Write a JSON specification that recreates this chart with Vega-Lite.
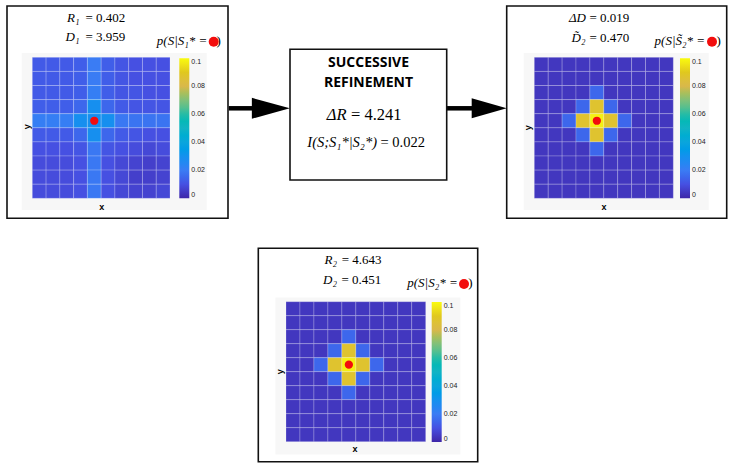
{
"$schema": "https://vega.github.io/schema/vega-lite/v6.json",
"background": "white",
"autosize": "none",
"padding": 0,
"width": 735,
"height": 468,
"view": {"stroke": null, "fill": null},
"datasets": {
"p1": [
{"c":0,"r":0,"p":0.012},{"c":1,"r":0,"p":0.012},{"c":2,"r":0,"p":0.012},{"c":3,"r":0,"p":0.013},{"c":4,"r":0,"p":0.020},{"c":5,"r":0,"p":0.013},{"c":6,"r":0,"p":0.011},{"c":7,"r":0,"p":0.010},{"c":8,"r":0,"p":0.010},{"c":9,"r":0,"p":0.010},
{"c":0,"r":1,"p":0.012},{"c":1,"r":1,"p":0.012},{"c":2,"r":1,"p":0.012},{"c":3,"r":1,"p":0.013},{"c":4,"r":1,"p":0.020},{"c":5,"r":1,"p":0.013},{"c":6,"r":1,"p":0.011},{"c":7,"r":1,"p":0.010},{"c":8,"r":1,"p":0.010},{"c":9,"r":1,"p":0.010},
{"c":0,"r":2,"p":0.012},{"c":1,"r":2,"p":0.012},{"c":2,"r":2,"p":0.012},{"c":3,"r":2,"p":0.013},{"c":4,"r":2,"p":0.021},{"c":5,"r":2,"p":0.013},{"c":6,"r":2,"p":0.011},{"c":7,"r":2,"p":0.011},{"c":8,"r":2,"p":0.010},{"c":9,"r":2,"p":0.010},
{"c":0,"r":3,"p":0.013},{"c":1,"r":3,"p":0.013},{"c":2,"r":3,"p":0.013},{"c":3,"r":3,"p":0.015},{"c":4,"r":3,"p":0.029},{"c":5,"r":3,"p":0.015},{"c":6,"r":3,"p":0.012},{"c":7,"r":3,"p":0.011},{"c":8,"r":3,"p":0.011},{"c":9,"r":3,"p":0.011},
{"c":0,"r":4,"p":0.021},{"c":1,"r":4,"p":0.021},{"c":2,"r":4,"p":0.021},{"c":3,"r":4,"p":0.029},{"c":4,"r":4,"p":0.029},{"c":5,"r":4,"p":0.029},{"c":6,"r":4,"p":0.019},{"c":7,"r":4,"p":0.018},{"c":8,"r":4,"p":0.018},{"c":9,"r":4,"p":0.018},
{"c":0,"r":5,"p":0.012},{"c":1,"r":5,"p":0.012},{"c":2,"r":5,"p":0.012},{"c":3,"r":5,"p":0.015},{"c":4,"r":5,"p":0.029},{"c":5,"r":5,"p":0.015},{"c":6,"r":5,"p":0.012},{"c":7,"r":5,"p":0.011},{"c":8,"r":5,"p":0.010},{"c":9,"r":5,"p":0.010},
{"c":0,"r":6,"p":0.010},{"c":1,"r":6,"p":0.010},{"c":2,"r":6,"p":0.010},{"c":3,"r":6,"p":0.011},{"c":4,"r":6,"p":0.019},{"c":5,"r":6,"p":0.011},{"c":6,"r":6,"p":0.010},{"c":7,"r":6,"p":0.009},{"c":8,"r":6,"p":0.008},{"c":9,"r":6,"p":0.009},
{"c":0,"r":7,"p":0.009},{"c":1,"r":7,"p":0.009},{"c":2,"r":7,"p":0.009},{"c":3,"r":7,"p":0.010},{"c":4,"r":7,"p":0.019},{"c":5,"r":7,"p":0.010},{"c":6,"r":7,"p":0.008},{"c":7,"r":7,"p":0.007},{"c":8,"r":7,"p":0.006},{"c":9,"r":7,"p":0.007},
{"c":0,"r":8,"p":0.009},{"c":1,"r":8,"p":0.009},{"c":2,"r":8,"p":0.009},{"c":3,"r":8,"p":0.010},{"c":4,"r":8,"p":0.019},{"c":5,"r":8,"p":0.010},{"c":6,"r":8,"p":0.008},{"c":7,"r":8,"p":0.006},{"c":8,"r":8,"p":0.006},{"c":9,"r":8,"p":0.007},
{"c":0,"r":9,"p":0.009},{"c":1,"r":9,"p":0.009},{"c":2,"r":9,"p":0.009},{"c":3,"r":9,"p":0.010},{"c":4,"r":9,"p":0.019},{"c":5,"r":9,"p":0.010},{"c":6,"r":9,"p":0.008},{"c":7,"r":9,"p":0.007},{"c":8,"r":9,"p":0.007},{"c":9,"r":9,"p":0.008}
],
"p2": [
{"c":0,"r":0,"p":0.004},{"c":1,"r":0,"p":0.004},{"c":2,"r":0,"p":0.004},{"c":3,"r":0,"p":0.004},{"c":4,"r":0,"p":0.004},{"c":5,"r":0,"p":0.004},{"c":6,"r":0,"p":0.004},{"c":7,"r":0,"p":0.004},{"c":8,"r":0,"p":0.004},{"c":9,"r":0,"p":0.004},
{"c":0,"r":1,"p":0.004},{"c":1,"r":1,"p":0.004},{"c":2,"r":1,"p":0.004},{"c":3,"r":1,"p":0.004},{"c":4,"r":1,"p":0.004},{"c":5,"r":1,"p":0.004},{"c":6,"r":1,"p":0.004},{"c":7,"r":1,"p":0.004},{"c":8,"r":1,"p":0.004},{"c":9,"r":1,"p":0.004},
{"c":0,"r":2,"p":0.004},{"c":1,"r":2,"p":0.004},{"c":2,"r":2,"p":0.004},{"c":3,"r":2,"p":0.004},{"c":4,"r":2,"p":0.015},{"c":5,"r":2,"p":0.004},{"c":6,"r":2,"p":0.004},{"c":7,"r":2,"p":0.004},{"c":8,"r":2,"p":0.004},{"c":9,"r":2,"p":0.004},
{"c":0,"r":3,"p":0.004},{"c":1,"r":3,"p":0.004},{"c":2,"r":3,"p":0.004},{"c":3,"r":3,"p":0.015},{"c":4,"r":3,"p":0.087},{"c":5,"r":3,"p":0.015},{"c":6,"r":3,"p":0.004},{"c":7,"r":3,"p":0.004},{"c":8,"r":3,"p":0.004},{"c":9,"r":3,"p":0.004},
{"c":0,"r":4,"p":0.004},{"c":1,"r":4,"p":0.004},{"c":2,"r":4,"p":0.015},{"c":3,"r":4,"p":0.087},{"c":4,"r":4,"p":0.098},{"c":5,"r":4,"p":0.087},{"c":6,"r":4,"p":0.015},{"c":7,"r":4,"p":0.004},{"c":8,"r":4,"p":0.004},{"c":9,"r":4,"p":0.004},
{"c":0,"r":5,"p":0.004},{"c":1,"r":5,"p":0.004},{"c":2,"r":5,"p":0.004},{"c":3,"r":5,"p":0.015},{"c":4,"r":5,"p":0.087},{"c":5,"r":5,"p":0.015},{"c":6,"r":5,"p":0.004},{"c":7,"r":5,"p":0.004},{"c":8,"r":5,"p":0.004},{"c":9,"r":5,"p":0.004},
{"c":0,"r":6,"p":0.004},{"c":1,"r":6,"p":0.004},{"c":2,"r":6,"p":0.004},{"c":3,"r":6,"p":0.004},{"c":4,"r":6,"p":0.015},{"c":5,"r":6,"p":0.004},{"c":6,"r":6,"p":0.004},{"c":7,"r":6,"p":0.004},{"c":8,"r":6,"p":0.004},{"c":9,"r":6,"p":0.004},
{"c":0,"r":7,"p":0.004},{"c":1,"r":7,"p":0.004},{"c":2,"r":7,"p":0.004},{"c":3,"r":7,"p":0.004},{"c":4,"r":7,"p":0.004},{"c":5,"r":7,"p":0.004},{"c":6,"r":7,"p":0.004},{"c":7,"r":7,"p":0.004},{"c":8,"r":7,"p":0.004},{"c":9,"r":7,"p":0.004},
{"c":0,"r":8,"p":0.004},{"c":1,"r":8,"p":0.004},{"c":2,"r":8,"p":0.004},{"c":3,"r":8,"p":0.004},{"c":4,"r":8,"p":0.004},{"c":5,"r":8,"p":0.004},{"c":6,"r":8,"p":0.004},{"c":7,"r":8,"p":0.004},{"c":8,"r":8,"p":0.004},{"c":9,"r":8,"p":0.004},
{"c":0,"r":9,"p":0.004},{"c":1,"r":9,"p":0.004},{"c":2,"r":9,"p":0.004},{"c":3,"r":9,"p":0.004},{"c":4,"r":9,"p":0.004},{"c":5,"r":9,"p":0.004},{"c":6,"r":9,"p":0.004},{"c":7,"r":9,"p":0.004},{"c":8,"r":9,"p":0.004},{"c":9,"r":9,"p":0.004}
],
"p3": [
{"c":0,"r":0,"p":0.004},{"c":1,"r":0,"p":0.004},{"c":2,"r":0,"p":0.004},{"c":3,"r":0,"p":0.004},{"c":4,"r":0,"p":0.004},{"c":5,"r":0,"p":0.004},{"c":6,"r":0,"p":0.004},{"c":7,"r":0,"p":0.004},{"c":8,"r":0,"p":0.004},{"c":9,"r":0,"p":0.004},
{"c":0,"r":1,"p":0.004},{"c":1,"r":1,"p":0.004},{"c":2,"r":1,"p":0.004},{"c":3,"r":1,"p":0.004},{"c":4,"r":1,"p":0.004},{"c":5,"r":1,"p":0.004},{"c":6,"r":1,"p":0.004},{"c":7,"r":1,"p":0.004},{"c":8,"r":1,"p":0.004},{"c":9,"r":1,"p":0.004},
{"c":0,"r":2,"p":0.004},{"c":1,"r":2,"p":0.004},{"c":2,"r":2,"p":0.004},{"c":3,"r":2,"p":0.004},{"c":4,"r":2,"p":0.015},{"c":5,"r":2,"p":0.004},{"c":6,"r":2,"p":0.004},{"c":7,"r":2,"p":0.004},{"c":8,"r":2,"p":0.004},{"c":9,"r":2,"p":0.004},
{"c":0,"r":3,"p":0.004},{"c":1,"r":3,"p":0.004},{"c":2,"r":3,"p":0.004},{"c":3,"r":3,"p":0.015},{"c":4,"r":3,"p":0.087},{"c":5,"r":3,"p":0.015},{"c":6,"r":3,"p":0.004},{"c":7,"r":3,"p":0.004},{"c":8,"r":3,"p":0.004},{"c":9,"r":3,"p":0.004},
{"c":0,"r":4,"p":0.004},{"c":1,"r":4,"p":0.004},{"c":2,"r":4,"p":0.015},{"c":3,"r":4,"p":0.087},{"c":4,"r":4,"p":0.098},{"c":5,"r":4,"p":0.087},{"c":6,"r":4,"p":0.015},{"c":7,"r":4,"p":0.004},{"c":8,"r":4,"p":0.004},{"c":9,"r":4,"p":0.004},
{"c":0,"r":5,"p":0.004},{"c":1,"r":5,"p":0.004},{"c":2,"r":5,"p":0.004},{"c":3,"r":5,"p":0.015},{"c":4,"r":5,"p":0.087},{"c":5,"r":5,"p":0.015},{"c":6,"r":5,"p":0.004},{"c":7,"r":5,"p":0.004},{"c":8,"r":5,"p":0.004},{"c":9,"r":5,"p":0.004},
{"c":0,"r":6,"p":0.004},{"c":1,"r":6,"p":0.004},{"c":2,"r":6,"p":0.004},{"c":3,"r":6,"p":0.004},{"c":4,"r":6,"p":0.015},{"c":5,"r":6,"p":0.004},{"c":6,"r":6,"p":0.004},{"c":7,"r":6,"p":0.004},{"c":8,"r":6,"p":0.004},{"c":9,"r":6,"p":0.004},
{"c":0,"r":7,"p":0.004},{"c":1,"r":7,"p":0.004},{"c":2,"r":7,"p":0.004},{"c":3,"r":7,"p":0.004},{"c":4,"r":7,"p":0.004},{"c":5,"r":7,"p":0.004},{"c":6,"r":7,"p":0.004},{"c":7,"r":7,"p":0.004},{"c":8,"r":7,"p":0.004},{"c":9,"r":7,"p":0.004},
{"c":0,"r":8,"p":0.004},{"c":1,"r":8,"p":0.004},{"c":2,"r":8,"p":0.004},{"c":3,"r":8,"p":0.004},{"c":4,"r":8,"p":0.004},{"c":5,"r":8,"p":0.004},{"c":6,"r":8,"p":0.004},{"c":7,"r":8,"p":0.004},{"c":8,"r":8,"p":0.004},{"c":9,"r":8,"p":0.004},
{"c":0,"r":9,"p":0.004},{"c":1,"r":9,"p":0.004},{"c":2,"r":9,"p":0.004},{"c":3,"r":9,"p":0.004},{"c":4,"r":9,"p":0.004},{"c":5,"r":9,"p":0.004},{"c":6,"r":9,"p":0.004},{"c":7,"r":9,"p":0.004},{"c":8,"r":9,"p":0.004},{"c":9,"r":9,"p":0.004}
]
},
"resolve": {"scale": {"x": "independent", "y": "independent", "color": "independent"}, "legend": {"color": "independent"}},
"layer": [
{"data": {"values": [{}]},
"layer": [
{"mark": {"type": "rect", "fill": "white", "stroke": "#111", "strokeWidth": 1.6},
"encoding": {"x": {"datum": 7, "type": "quantitative", "scale": {"domain": [0, 735], "nice": false, "zero": false}, "axis": null}, "x2": {"datum": 228}, "y": {"datum": 6, "type": "quantitative", "scale": {"domain": [0, 468], "reverse": true, "nice": false, "zero": false}, "axis": null}, "y2": {"datum": 218.3}}},
{"mark": {"type": "rect", "fill": "white", "stroke": "#111", "strokeWidth": 1.6},
"encoding": {"x": {"datum": 506.7, "type": "quantitative"}, "x2": {"datum": 726.7}, "y": {"datum": 6, "type": "quantitative"}, "y2": {"datum": 218.3}}},
{"mark": {"type": "rect", "fill": "white", "stroke": "#111", "strokeWidth": 1.6},
"encoding": {"x": {"datum": 258.3, "type": "quantitative"}, "x2": {"datum": 477.7}, "y": {"datum": 248.3, "type": "quantitative"}, "y2": {"datum": 461.7}}},
{"mark": {"type": "rect", "fill": "#f7f7f7"},
"encoding": {"x": {"datum": 21.7, "type": "quantitative"}, "x2": {"datum": 206.7}, "y": {"datum": 53, "type": "quantitative"}, "y2": {"datum": 210}}},
{"mark": {"type": "rect", "fill": "#f7f7f7"},
"encoding": {"x": {"datum": 523.7, "type": "quantitative"}, "x2": {"datum": 708.7}, "y": {"datum": 53, "type": "quantitative"}, "y2": {"datum": 210}}},
{"mark": {"type": "rect", "fill": "#f7f7f7"},
"encoding": {"x": {"datum": 275.4, "type": "quantitative"}, "x2": {"datum": 460.4}, "y": {"datum": 297.4, "type": "quantitative"}, "y2": {"datum": 454.4}}},
{"mark": {"type": "rule", "color": "black", "strokeWidth": 4.5},
"encoding": {"x": {"datum": 228.8, "type": "quantitative"}, "x2": {"datum": 256}, "y": {"datum": 108.3, "type": "quantitative"}}},
{"mark": {"type": "point", "shape": "M-1,-0.55L1,0L-1,0.55Z", "filled": true, "color": "black", "size": 1444, "opacity": 1},
"encoding": {"x": {"datum": 270.85, "type": "quantitative"}, "y": {"datum": 108.3, "type": "quantitative"}}},
{"mark": {"type": "rule", "color": "black", "strokeWidth": 4.5},
"encoding": {"x": {"datum": 446.7, "type": "quantitative"}, "x2": {"datum": 474}, "y": {"datum": 108.3, "type": "quantitative"}}},
{"mark": {"type": "point", "shape": "M-1,-0.57L1,0L-1,0.57Z", "filled": true, "color": "black", "size": 1225, "opacity": 1},
"encoding": {"x": {"datum": 489.2, "type": "quantitative"}, "y": {"datum": 108.3, "type": "quantitative"}}},
{"mark": {"type": "rect", "fill": "white", "stroke": "#111", "strokeWidth": 1.6},
"encoding": {"x": {"datum": 290, "type": "quantitative"}, "x2": {"datum": 446.7}, "y": {"datum": 49.3, "type": "quantitative"}, "y2": {"datum": 180}}},
{"mark": {"type": "text", "text": "SUCCESSIVE", "font": "Open Sans", "fontSize": 14, "fontWeight": "bold", "align": "center", "baseline": "alphabetic"},
"encoding": {"x": {"datum": 368.5, "type": "quantitative"}, "y": {"datum": 67.3, "type": "quantitative"}}},
{"mark": {"type": "text", "text": "REFINEMENT", "font": "Open Sans", "fontSize": 14, "fontWeight": "bold", "align": "center", "baseline": "alphabetic"},
"encoding": {"x": {"datum": 368.5, "type": "quantitative"}, "y": {"datum": 86.7, "type": "quantitative"}}},
{"mark": {"type": "text", "text": "ΔR", "font": "Liberation Serif", "fontSize": 16.5, "fontStyle": "italic", "align": "right", "baseline": "alphabetic"},
"encoding": {"x": {"datum": 346.5, "type": "quantitative"}, "y": {"datum": 120, "type": "quantitative"}}},
{"mark": {"type": "text", "text": "= 4.241", "font": "Liberation Serif", "fontSize": 16.5, "align": "left", "baseline": "alphabetic"},
"encoding": {"x": {"datum": 351, "type": "quantitative"}, "y": {"datum": 120, "type": "quantitative"}}},
{"mark": {"type": "text", "text": "I(S;S₁*|S₂*)", "font": "Liberation Serif", "fontSize": 14.5, "fontStyle": "italic", "align": "right", "baseline": "alphabetic"},
"encoding": {"x": {"datum": 377, "type": "quantitative"}, "y": {"datum": 147.3, "type": "quantitative"}}},
{"mark": {"type": "text", "text": "= 0.022", "font": "Liberation Serif", "fontSize": 14.5, "align": "left", "baseline": "alphabetic"},
"encoding": {"x": {"datum": 380.5, "type": "quantitative"}, "y": {"datum": 147.3, "type": "quantitative"}}},

{"mark": {"type": "text", "text": "R₁", "font": "Liberation Serif", "fontSize": 13, "fontStyle": "italic", "align": "right", "baseline": "alphabetic"},
"encoding": {"x": {"datum": 79.5, "type": "quantitative"}, "y": {"datum": 21.7, "type": "quantitative"}}},
{"mark": {"type": "text", "text": "= 0.402", "font": "Liberation Serif", "fontSize": 13, "align": "left", "baseline": "alphabetic"},
"encoding": {"x": {"datum": 85.5, "type": "quantitative"}, "y": {"datum": 21.7, "type": "quantitative"}}},
{"mark": {"type": "text", "text": "D₁", "font": "Liberation Serif", "fontSize": 13, "fontStyle": "italic", "align": "right", "baseline": "alphabetic"},
"encoding": {"x": {"datum": 79.5, "type": "quantitative"}, "y": {"datum": 41, "type": "quantitative"}}},
{"mark": {"type": "text", "text": "= 3.959", "font": "Liberation Serif", "fontSize": 13, "align": "left", "baseline": "alphabetic"},
"encoding": {"x": {"datum": 85.5, "type": "quantitative"}, "y": {"datum": 41, "type": "quantitative"}}},
{"mark": {"type": "text", "text": "p(S|S₁* =", "font": "Liberation Serif", "fontSize": 13, "fontStyle": "italic", "align": "right", "baseline": "alphabetic"},
"encoding": {"x": {"datum": 207.3, "type": "quantitative"}, "y": {"datum": 45, "type": "quantitative"}}},
{"mark": {"type": "point", "shape": "circle", "filled": true, "color": "#f20d0d", "size": 100, "opacity": 1},
"encoding": {"x": {"datum": 213.7, "type": "quantitative"}, "y": {"datum": 41.7, "type": "quantitative"}}},
{"mark": {"type": "text", "text": ")", "font": "Liberation Serif", "fontSize": 13, "align": "left", "baseline": "alphabetic"},
"encoding": {"x": {"datum": 216.5, "type": "quantitative"}, "y": {"datum": 45, "type": "quantitative"}}},
{"mark": {"type": "text", "text": "x", "font": "Liberation Sans", "fontSize": 9, "fontWeight": "bold", "align": "center", "baseline": "alphabetic"},
"encoding": {"x": {"datum": 101.7, "type": "quantitative"}, "y": {"datum": 209.5, "type": "quantitative"}}},
{"mark": {"type": "text", "text": "y", "font": "Liberation Sans", "fontSize": 9, "fontWeight": "bold", "align": "center", "baseline": "middle", "angle": 270},
"encoding": {"x": {"datum": 26.7, "type": "quantitative"}, "y": {"datum": 126.7, "type": "quantitative"}}},

{"mark": {"type": "text", "text": "ΔD", "font": "Liberation Serif", "fontSize": 13, "fontStyle": "italic", "align": "right", "baseline": "alphabetic"},
"encoding": {"x": {"datum": 586, "type": "quantitative"}, "y": {"datum": 21.7, "type": "quantitative"}}},
{"mark": {"type": "text", "text": "= 0.019", "font": "Liberation Serif", "fontSize": 13, "align": "left", "baseline": "alphabetic"},
"encoding": {"x": {"datum": 589.5, "type": "quantitative"}, "y": {"datum": 21.7, "type": "quantitative"}}},
{"mark": {"type": "text", "text": "D̃₂", "font": "Liberation Serif", "fontSize": 13, "fontStyle": "italic", "align": "right", "baseline": "alphabetic"},
"encoding": {"x": {"datum": 585.5, "type": "quantitative"}, "y": {"datum": 41.7, "type": "quantitative"}}},
{"mark": {"type": "text", "text": "= 0.470", "font": "Liberation Serif", "fontSize": 13, "align": "left", "baseline": "alphabetic"},
"encoding": {"x": {"datum": 589.5, "type": "quantitative"}, "y": {"datum": 41.7, "type": "quantitative"}}},
{"mark": {"type": "text", "text": "p(S|S̃₂* =", "font": "Liberation Serif", "fontSize": 13, "fontStyle": "italic", "align": "right", "baseline": "alphabetic"},
"encoding": {"x": {"datum": 705, "type": "quantitative"}, "y": {"datum": 45, "type": "quantitative"}}},
{"mark": {"type": "point", "shape": "circle", "filled": true, "color": "#f20d0d", "size": 100, "opacity": 1},
"encoding": {"x": {"datum": 712, "type": "quantitative"}, "y": {"datum": 41.7, "type": "quantitative"}}},
{"mark": {"type": "text", "text": ")", "font": "Liberation Serif", "fontSize": 13, "align": "left", "baseline": "alphabetic"},
"encoding": {"x": {"datum": 716.5, "type": "quantitative"}, "y": {"datum": 45, "type": "quantitative"}}},
{"mark": {"type": "text", "text": "x", "font": "Liberation Sans", "fontSize": 9, "fontWeight": "bold", "align": "center", "baseline": "alphabetic"},
"encoding": {"x": {"datum": 604, "type": "quantitative"}, "y": {"datum": 209.5, "type": "quantitative"}}},
{"mark": {"type": "text", "text": "y", "font": "Liberation Sans", "fontSize": 9, "fontWeight": "bold", "align": "center", "baseline": "middle", "angle": 270},
"encoding": {"x": {"datum": 528.3, "type": "quantitative"}, "y": {"datum": 127.7, "type": "quantitative"}}},

{"mark": {"type": "text", "text": "R₂", "font": "Liberation Serif", "fontSize": 13, "fontStyle": "italic", "align": "right", "baseline": "alphabetic"},
"encoding": {"x": {"datum": 337, "type": "quantitative"}, "y": {"datum": 264.3, "type": "quantitative"}}},
{"mark": {"type": "text", "text": "= 4.643", "font": "Liberation Serif", "fontSize": 13, "align": "left", "baseline": "alphabetic"},
"encoding": {"x": {"datum": 341.7, "type": "quantitative"}, "y": {"datum": 264.3, "type": "quantitative"}}},
{"mark": {"type": "text", "text": "D₂", "font": "Liberation Serif", "fontSize": 13, "fontStyle": "italic", "align": "right", "baseline": "alphabetic"},
"encoding": {"x": {"datum": 337, "type": "quantitative"}, "y": {"datum": 284.3, "type": "quantitative"}}},
{"mark": {"type": "text", "text": "= 0.451", "font": "Liberation Serif", "fontSize": 13, "align": "left", "baseline": "alphabetic"},
"encoding": {"x": {"datum": 341.5, "type": "quantitative"}, "y": {"datum": 284.3, "type": "quantitative"}}},
{"mark": {"type": "text", "text": "p(S|S₂* =", "font": "Liberation Serif", "fontSize": 13, "fontStyle": "italic", "align": "right", "baseline": "alphabetic"},
"encoding": {"x": {"datum": 457.7, "type": "quantitative"}, "y": {"datum": 287, "type": "quantitative"}}},
{"mark": {"type": "point", "shape": "circle", "filled": true, "color": "#f20d0d", "size": 100, "opacity": 1},
"encoding": {"x": {"datum": 464, "type": "quantitative"}, "y": {"datum": 284, "type": "quantitative"}}},
{"mark": {"type": "text", "text": ")", "font": "Liberation Serif", "fontSize": 13, "align": "left", "baseline": "alphabetic"},
"encoding": {"x": {"datum": 468.3, "type": "quantitative"}, "y": {"datum": 287, "type": "quantitative"}}},
{"mark": {"type": "text", "text": "x", "font": "Liberation Sans", "fontSize": 9, "fontWeight": "bold", "align": "center", "baseline": "alphabetic"},
"encoding": {"x": {"datum": 355, "type": "quantitative"}, "y": {"datum": 451.5, "type": "quantitative"}}},
{"mark": {"type": "text", "text": "y", "font": "Liberation Sans", "fontSize": 9, "fontWeight": "bold", "align": "center", "baseline": "middle", "angle": 270},
"encoding": {"x": {"datum": 280, "type": "quantitative"}, "y": {"datum": 371.7, "type": "quantitative"}}}
]},

{"layer": [
{"data": {"name": "p1"},
"mark": {"type": "rect", "stroke": "white", "strokeWidth": 0.6, "strokeOpacity": 0.35},
"encoding": {
"x": {"field": "c", "type": "ordinal", "scale": {"range": [32.3, 170], "paddingInner": 0, "paddingOuter": 0}, "axis": null},
"y": {"field": "r", "type": "ordinal", "scale": {"range": [57.3, 198.3], "paddingInner": 0, "paddingOuter": 0}, "axis": null},
"color": {"field": "p", "type": "quantitative",
"scale": {"domain": [0,0.01,0.02,0.03,0.04,0.05,0.06,0.07,0.08,0.09,0.1], "range": ["#3e26a8","#4650e2","#3a7cf4","#1491ee","#0aa5dc","#11b3c4","#25bca6","#7fc07a","#d9b84a","#e0c81e","#f9fb0e"]},
"legend": {"title": null, "orient": "none", "legendX": 179.3, "legendY": 58.3, "direction": "vertical", "gradientLength": 140, "gradientThickness": 10, "gradientStrokeWidth": 0, "values": [0,0.02,0.04,0.06,0.08,0.1], "format": "~g", "labelFont": "Liberation Sans", "labelFontSize": 7, "labelColor": "#222", "labelOffset": 2, "labelBaseline": "middle", "labelOverlap": false, "padding": 0}}
}},
{"data": {"values": [{}]},
"mark": {"type": "point", "shape": "circle", "filled": true, "color": "#f20d0d", "size": 68, "opacity": 1},
"encoding": {"x": {"datum": 4, "type": "ordinal"}, "y": {"datum": 4, "type": "ordinal"}}}
]},

{"layer": [
{"data": {"name": "p2"},
"mark": {"type": "rect", "stroke": "white", "strokeWidth": 0.6, "strokeOpacity": 0.35},
"encoding": {
"x": {"field": "c", "type": "ordinal", "scale": {"range": [534.3, 673.3], "paddingInner": 0, "paddingOuter": 0}, "axis": null},
"y": {"field": "r", "type": "ordinal", "scale": {"range": [57.3, 198.3], "paddingInner": 0, "paddingOuter": 0}, "axis": null},
"color": {"field": "p", "type": "quantitative",
"scale": {"domain": [0,0.01,0.02,0.03,0.04,0.05,0.06,0.07,0.08,0.09,0.1], "range": ["#3e26a8","#4650e2","#3a7cf4","#1491ee","#0aa5dc","#11b3c4","#25bca6","#7fc07a","#d9b84a","#e0c81e","#f9fb0e"]},
"legend": {"title": null, "orient": "none", "legendX": 680, "legendY": 58.3, "direction": "vertical", "gradientLength": 140, "gradientThickness": 10, "gradientStrokeWidth": 0, "values": [0,0.02,0.04,0.06,0.08,0.1], "format": "~g", "labelFont": "Liberation Sans", "labelFontSize": 7, "labelColor": "#222", "labelOffset": 2, "labelBaseline": "middle", "labelOverlap": false, "padding": 0}}
}},
{"data": {"values": [{}]},
"mark": {"type": "point", "shape": "circle", "filled": true, "color": "#f20d0d", "size": 68, "opacity": 1},
"encoding": {"x": {"datum": 4, "type": "ordinal"}, "y": {"datum": 4, "type": "ordinal"}}}
]},

{"layer": [
{"data": {"name": "p3"},
"mark": {"type": "rect", "stroke": "white", "strokeWidth": 0.6, "strokeOpacity": 0.35},
"encoding": {
"x": {"field": "c", "type": "ordinal", "scale": {"range": [286, 425.7], "paddingInner": 0, "paddingOuter": 0}, "axis": null},
"y": {"field": "r", "type": "ordinal", "scale": {"range": [301.7, 441.7], "paddingInner": 0, "paddingOuter": 0}, "axis": null},
"color": {"field": "p", "type": "quantitative",
"scale": {"domain": [0,0.01,0.02,0.03,0.04,0.05,0.06,0.07,0.08,0.09,0.1], "range": ["#3e26a8","#4650e2","#3a7cf4","#1491ee","#0aa5dc","#11b3c4","#25bca6","#7fc07a","#d9b84a","#e0c81e","#f9fb0e"]},
"legend": {"title": null, "orient": "none", "legendX": 431.7, "legendY": 302, "direction": "vertical", "gradientLength": 140, "gradientThickness": 10, "gradientStrokeWidth": 0, "values": [0,0.02,0.04,0.06,0.08,0.1], "format": "~g", "labelFont": "Liberation Sans", "labelFontSize": 7, "labelColor": "#222", "labelOffset": 2, "labelBaseline": "middle", "labelOverlap": false, "padding": 0}}
}},
{"data": {"values": [{}]},
"mark": {"type": "point", "shape": "circle", "filled": true, "color": "#f20d0d", "size": 68, "opacity": 1},
"encoding": {"x": {"datum": 4, "type": "ordinal"}, "y": {"datum": 4, "type": "ordinal"}}}
]}
],
"config": {
"legend": {"padding": 0}
}
}
